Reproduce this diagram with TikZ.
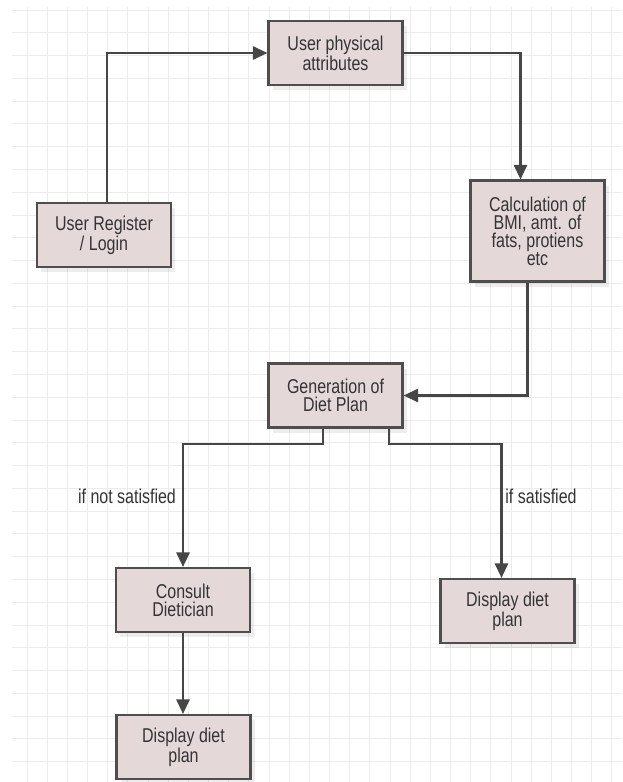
\documentclass[tikz,border=0pt]{standalone}
\usepackage{fontspec}
\setmainfont{Liberation Sans}[FakeStretch=0.8]
\usetikzlibrary{arrows.meta,calc,shadows}
\definecolor{boxfill}{RGB}{229,216,216}
\definecolor{boxline}{RGB}{78,78,78}
\definecolor{linegray}{RGB}{70,70,70}
\definecolor{gridline}{RGB}{236,236,236}
\definecolor{textgray}{RGB}{52,52,52}
\tikzset{%
  procnode/.style = {shape=rectangle, draw=boxline, line width=1.6pt,%
                     fill=boxfill, align=center, text=textgray,%
                     minimum width=100.5pt, minimum height=48pt, inner sep=2pt,%
                     font=\fontsize{15pt}{13.5pt}\selectfont,%
                     drop shadow={shadow xshift=3pt, shadow yshift=-4pt,%
                                  fill=black, opacity=.07}},%
  tallnode/.style = {procnode, minimum height=75.75pt},%
  caption/.style  = {text=textgray, inner sep=0pt,%
                     font=\fontsize{15pt}{13.5pt}\selectfont},%
  flow/.style     = {draw=linegray, line width=1.6pt,%
                     -{Triangle[length=11pt,width=10pt]}}%
}
\begin{document}
\begin{tikzpicture}[x=0.75pt, y=-0.75pt]%
	% page and grid
	\fill[white] (0,0) rectangle (622,782);
	\useasboundingbox (0,0) rectangle (622,782);
	\foreach \k in {0,...,29}
		\draw[gridline, line width=0.75pt] (27+20.17*\k,7) -- (27+20.17*\k,782);
	\foreach \k in {0,...,33}
		\draw[gridline, line width=0.75pt] (12,10+22.78*\k) -- (622,10+22.78*\k);
	% boxes
	\node[procnode] (attr)    at (335.5,53)  {User physical\\attributes};
	\node[procnode] (login)   at (104,235)   {User Register\\/ Login};
	\node[tallnode] (calc)    at (537.5,231) {Calculation of\\BMI, amt. of\\fats, protiens\\etc};
	\node[procnode] (gen)     at (335.5,395.5) {Generation of\\Diet Plan};
	\node[procnode] (consult) at (183,600)   {Consult\\Dietician};
	\node[procnode] (showr)   at (507.5,611) {Display diet\\plan};
	\node[procnode] (showb)   at (183.5,747) {Display diet\\plan};
	% labels
	\node[caption] (notsat) at (127,496) {if not satisfied};
	\node[caption] (sat)    at (541,496) {if satisfied};
	% connectors
	\draw[flow] ($(login.north)+(3,0)$) |- (attr.west);
	\draw[flow] (attr.east) -| ($(calc.north)+(-17,0)$);
	\draw[flow] ($(calc.south)+(-10,0)$) |- (gen.east);
	\draw[flow] ($(gen.south)+(-12.5,0)$) -- ++(0,15) -| (consult.north);
	\draw[flow] ($(gen.south)+(53.5,0)$) -- ++(0,15) -| ($(showr.north)+(-6,0)$);
	\draw[flow] (consult.south) -- (consult.south |- showb.north);
\end{tikzpicture}
\end{document}
